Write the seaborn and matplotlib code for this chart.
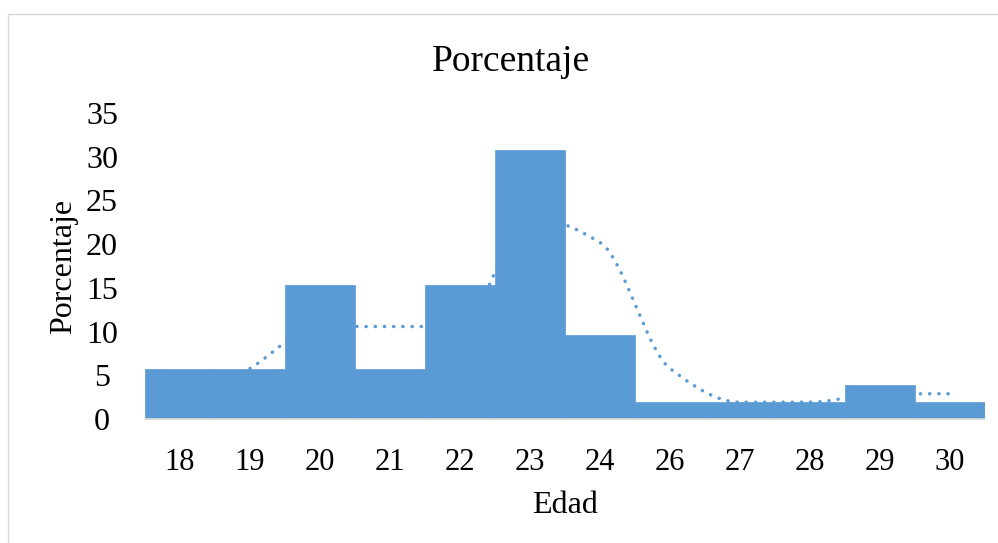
import numpy as np
import pandas as pd
import matplotlib
matplotlib.use("Agg")
import matplotlib.pyplot as plt
import seaborn as sns
from matplotlib.patches import Rectangle

edades = ["18", "19", "20", "21", "22", "23", "24", "26", "27", "28", "29", "30"]
porcentaje = [5.77, 5.77, 15.38, 5.77, 15.38, 30.77, 9.62, 1.92, 1.92, 1.92, 3.85, 1.92]
yticks = [0, 5, 10, 15, 20, 25, 30, 35]

df = pd.DataFrame({"Edad": edades, "Porcentaje": porcentaje})
# 2-period moving average trendline (as in the original chart)
df["MM"] = df["Porcentaje"].rolling(2).mean()

sns.set_theme(style="white")
plt.rcParams["font.family"] = ["Liberation Serif", "DejaVu Serif"]
plt.rcParams["text.color"] = "black"
plt.rcParams["axes.labelcolor"] = "black"
plt.rcParams["xtick.color"] = "black"
plt.rcParams["ytick.color"] = "black"

color = "#5B9BD5"
fig = plt.figure(figsize=(9.98, 5.43), dpi=100)
ax = fig.add_axes([145 / 998, 1 - 419 / 543, 840 / 998, 306 / 543])

sns.barplot(data=df, x="Edad", y="Porcentaje", color=color, width=1.0,
            saturation=1, ax=ax, zorder=3, edgecolor=color, linewidth=0.5)


def monotone(xs, ys, n=40):
    """Fritsch-Carlson monotone cubic, used only to draw the smoothed line."""
    xs = np.asarray(xs, float)
    ys = np.asarray(ys, float)
    h = np.diff(xs)
    d = np.diff(ys) / h
    m = np.zeros_like(ys)
    m[0], m[-1] = d[0], d[-1]
    for i in range(1, len(ys) - 1):
        if d[i - 1] * d[i] <= 0:
            m[i] = 0.0
        else:
            w1 = 2 * h[i] + h[i - 1]
            w2 = h[i] + 2 * h[i - 1]
            m[i] = (w1 + w2) / (w1 / d[i - 1] + w2 / d[i])
    ox, oy = [], []
    for i in range(len(xs) - 1):
        t = np.linspace(0, 1, n)
        h00 = 2 * t ** 3 - 3 * t ** 2 + 1
        h10 = t ** 3 - 2 * t ** 2 + t
        h01 = -2 * t ** 3 + 3 * t ** 2
        h11 = t ** 3 - t ** 2
        ox.extend(xs[i] + t * h[i])
        oy.extend(h00 * ys[i] + h10 * h[i] * m[i] + h01 * ys[i + 1] + h11 * h[i] * m[i + 1])
    return np.array(ox), np.array(oy)


mm = df["MM"].to_numpy()
idx = np.arange(len(edades))
mask = ~np.isnan(mm)
sx, sy = monotone(idx[mask], mm[mask])
ax.plot(sx, sy, linestyle=(0, (0.05, 2.6)), dash_capstyle="round",
        color=color, linewidth=2.5, zorder=2)

ax.set_xlim(-0.5, len(edades) - 0.5)
ax.set_ylim(0, 35)
ax.set_yticks(yticks)
ax.set_yticklabels([str(v) for v in yticks], fontsize=23)
ax.tick_params(axis="x", labelsize=22, pad=21, length=0)
ax.tick_params(axis="y", length=0, pad=31)
for lab in ax.get_yticklabels():
    lab.set_horizontalalignment("center")
for s in ["top", "right", "left"]:
    ax.spines[s].set_visible(False)
ax.spines["bottom"].set_color("#D9D9D9")
ax.spines["bottom"].set_linewidth(1.2)
ax.spines["bottom"].set_zorder(4)
ax.set_xlabel("Edad", fontsize=23, labelpad=10)
ax.set_ylabel("Porcentaje", fontsize=23, labelpad=6)
ax.grid(False)

fig.text(511 / 998, 1 - 62 / 543, "Porcentaje", ha="center", va="center", fontsize=27)

fig.patches.append(Rectangle((8 / 998, -0.01), 1.0, 1 - 14 / 543 + 0.01,
                             transform=fig.transFigure, fill=False,
                             edgecolor="#D9D9D9", linewidth=1, zorder=0))

fig.savefig("out.png", dpi=100)
